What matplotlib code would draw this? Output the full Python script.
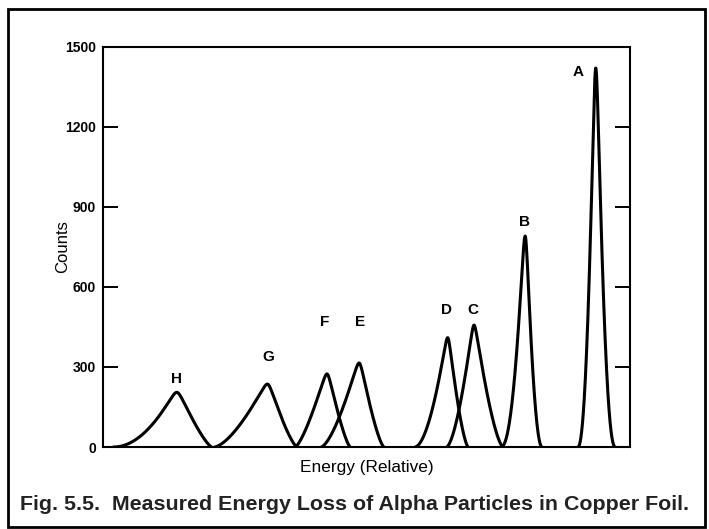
import numpy as np
import matplotlib
matplotlib.use('Agg')
import matplotlib.pyplot as plt
from matplotlib.patches import Rectangle

# peak data (energy in relative units 0-100, counts)
names = ['H', 'G', 'F', 'E', 'D', 'C', 'B', 'A']
centers = [14.0, 31.2, 42.5, 48.6, 65.4, 70.4, 80.1, 93.5]
heights = [205, 236, 274, 315, 410, 457, 791, 1421]
foot_left = [12.0, 10.0, 6.0, 7.2, 6.2, 5.2, 4.6, 3.4]
foot_right = [6.6, 5.6, 4.4, 4.7, 3.9, 5.5, 3.2, 3.7]
# how hollow each flank is (1 = straight) and how round the tip is
bend_left = [2.0, 1.5, 1.35, 1.5, 1.8, 1.6, 2.2, 2.2]
bend_right = [1.3, 1.35, 1.35, 1.4, 1.5, 1.5, 2.0, 2.2]
tip = [0.6, 0.5, 0.4, 0.4, 0.3, 0.3, 0.35, 0.35]

# where the letters sit
label_x = [14.0, 31.3, 42.1, 48.8, 65.1, 70.2, 79.9, 90.1]
label_y = [255, 337, 469, 469, 514, 514, 844, 1406]

y_ticks = [0, 300, 600, 900, 1200, 1500]


def side(d, h, w, p, e):
    t = (np.sqrt(d ** 2 + e ** 2) - e) / (np.sqrt(w ** 2 + e ** 2) - e)
    return h * (1 - t) ** p


fig = plt.figure(figsize=(7.09, 5.29), dpi=100)
ax = fig.add_axes([0.1453, 0.155, 0.7433, 0.7562])

for i in range(len(names)):
    c, h = centers[i], heights[i]
    xl = np.linspace(c - foot_left[i], c, 300)
    xr = np.linspace(c, c + foot_right[i], 300)
    yl = side(c - xl, h, foot_left[i], bend_left[i], tip[i])
    yr = side(xr - c, h, foot_right[i], bend_right[i], tip[i])
    ax.plot(np.r_[xl, xr], np.r_[yl, yr], color='black', lw=2.2,
            solid_capstyle='round', solid_joinstyle='round')
    ax.text(label_x[i], label_y[i], names[i], ha='center', va='center',
            fontsize=11, fontweight='bold', family='Liberation Sans')

ax.set_xlim(0, 100)
ax.set_ylim(0, 1500)
ax.set_xticks([])
ax.set_yticks(y_ticks)
ax.set_yticklabels([str(t) for t in y_ticks], fontsize=10, fontweight='bold',
                   family='Liberation Sans')
ax.tick_params(axis='y', direction='in', length=11, width=1.4, right=True,
               pad=5)
for s in ax.spines.values():
    s.set_linewidth(1.5)

ax.set_ylabel('Counts', fontsize=12, family='Liberation Sans')
ax.yaxis.set_label_coords(-0.063, 0.5)
ax.set_xlabel('Energy (Relative)', fontsize=12.4, family='Liberation Sans',
              labelpad=9)

fig.text(0.5, 1 - 505 / 529, 'Fig. 5.5.  Measured Energy Loss of Alpha Particles in Copper Foil.',
         ha='center', va='center', fontsize=15.4, fontweight='bold',
         family='Liberation Sans', color='#222222')

# frame around the whole figure
fig.patches.append(Rectangle((8 / 709, 2 / 529), 697 / 709, 518 / 529,
                             transform=fig.transFigure, fill=False,
                             edgecolor='black', lw=2))

fig.savefig('out.png', dpi=100)
